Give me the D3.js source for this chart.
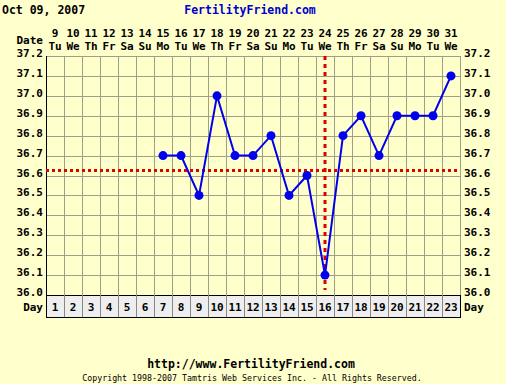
<!DOCTYPE html>
<html>
<head>
<meta charset="utf-8">
<script src="https://cdn.jsdelivr.net/npm/d3@7"></script>
<style>
  body { margin: 0; background: #ffffcc; }
  svg { display: block; }
  text { font-family: "DejaVu Sans Mono", monospace; font-weight: bold; }
</style>
</head>
<body>
<svg id="chart" width="506" height="384"></svg>
<script>
const cycleDays = d3.range(1, 24);
const dates = [9, 10, 11, 12, 13, 14, 15, 16, 17, 18, 19, 20, 21, 22, 23, 24, 25, 26, 27, 28, 29, 30, 31];
const weekdays = ['Tu', 'We', 'Th', 'Fr', 'Sa', 'Su', 'Mo', 'Tu', 'We', 'Th', 'Fr', 'Sa', 'Su', 'Mo', 'Tu', 'We', 'Th', 'Fr', 'Sa', 'Su', 'Mo', 'Tu', 'We'];
const tempDays = [7, 8, 9, 10, 11, 12, 13, 14, 15, 16, 17, 18, 19, 20, 21, 22, 23];
const temps = [36.7, 36.7, 36.5, 37.0, 36.7, 36.7, 36.8, 36.5, 36.6, 36.1, 36.8, 36.9, 36.7, 36.9, 36.9, 36.9, 37.1];
const tempTicks = [36.0, 36.1, 36.2, 36.3, 36.4, 36.5, 36.6, 36.7, 36.8, 36.9, 37.0, 37.1, 37.2];
const coverline = 36.625;
const ovulationDay = 16;

const svg = d3.select('#chart');
const plotL = 46, plotR = 460, plotT = 56, plotB = 295, dayRowH = 22;
const gridColor = '#a09f88';

const x = d3.scaleBand().domain(cycleDays).range([plotL, plotR]);
const y = d3.scaleLinear().domain([36.0, 37.2]).range([plotB, plotT]);
const cx = d => x(d) + x.bandwidth() / 2;

// header
svg.append('text').attr('x', 2).attr('y', 14).attr('font-size', 11.5)
  .attr('fill', '#000').text('Oct 09, 2007');
svg.append('text').attr('x', 250).attr('y', 14).attr('font-size', 11.5)
  .attr('text-anchor', 'middle').attr('fill', '#0000cc').text('FertilityFriend.com');

// grid
const g = svg.append('g');
g.selectAll('.hgrid').data(tempTicks).enter().append('line')
  .attr('x1', plotL).attr('x2', plotR)
  .attr('y1', d => Math.round(y(d)) + 0.5).attr('y2', d => Math.round(y(d)) + 0.5)
  .attr('stroke', gridColor).attr('stroke-width', 1);
g.selectAll('.vgrid').data(cycleDays.concat([24])).enter().append('line')
  .attr('x1', d => Math.round(d === 24 ? plotR : x(d)) + 0.5).attr('x2', d => Math.round(d === 24 ? plotR : x(d)) + 0.5)
  .attr('y1', plotT).attr('y2', plotB)
  .attr('stroke', gridColor).attr('stroke-width', 1);

// day row
g.append('rect').attr('x', plotL + 0.5).attr('y', plotB + 0.5).attr('width', plotR - plotL).attr('height', dayRowH)
  .attr('fill', '#eeeeee').attr('stroke', '#000').attr('stroke-width', 1);
g.selectAll('.vday').data(cycleDays.slice(1)).enter().append('line')
  .attr('x1', d => Math.round(x(d)) + 0.5).attr('x2', d => Math.round(x(d)) + 0.5)
  .attr('y1', plotB).attr('y2', plotB + dayRowH)
  .attr('stroke', '#888888');
g.selectAll('.daylbl').data(cycleDays).enter().append('text')
  .attr('x', d => cx(d)).attr('y', plotB + 16).attr('font-size', 11)
  .attr('text-anchor', 'middle').text(d => d);

// axis lines
svg.append('line').attr('x1', plotL + 0.5).attr('x2', plotL + 0.5).attr('y1', plotT).attr('y2', plotB + dayRowH)
  .attr('stroke', '#000');

// date rows
svg.selectAll('.date').data(dates).enter().append('text')
  .attr('x', (d, i) => cx(cycleDays[i])).attr('y', 37).attr('font-size', 11)
  .attr('text-anchor', 'middle').text(d => d);
svg.selectAll('.wd').data(weekdays).enter().append('text')
  .attr('x', (d, i) => cx(cycleDays[i])).attr('y', 50).attr('font-size', 11)
  .attr('text-anchor', 'middle').text(d => d);
svg.append('text').attr('x', 43).attr('y', 44).attr('font-size', 11)
  .attr('text-anchor', 'end').text('Date');
svg.append('text').attr('x', 43).attr('y', plotB + 16).attr('font-size', 11)
  .attr('text-anchor', 'end').text('Day');
svg.append('text').attr('x', 464).attr('y', plotB + 16).attr('font-size', 11)
  .text('Day');

// temp labels
svg.selectAll('.tl').data(tempTicks).enter().append('text')
  .attr('x', 43).attr('y', d => y(d) + 1).attr('font-size', 11)
  .attr('text-anchor', 'end').text(d => d.toFixed(1));
svg.selectAll('.tr').data(tempTicks).enter().append('text')
  .attr('x', 464).attr('y', d => y(d) + 1).attr('font-size', 11)
  .text(d => d.toFixed(1));

// coverline and ovulation line
svg.append('line').attr('x1', plotL).attr('x2', plotR)
  .attr('y1', y(coverline)).attr('y2', y(coverline))
  .attr('stroke', '#dd0000').attr('stroke-width', 3).attr('stroke-dasharray', '3,3');
svg.append('line').attr('x1', cx(ovulationDay)).attr('x2', cx(ovulationDay))
  .attr('y1', plotT).attr('y2', plotB - 5)
  .attr('stroke', '#dd0000').attr('stroke-width', 3).attr('stroke-dasharray', '4,4');

// temperature line
const pts = tempDays.map((d, i) => [d, temps[i]]);
const line = d3.line().x(p => cx(p[0])).y(p => y(p[1]));
svg.append('path').attr('d', line(pts)).attr('fill', 'none')
  .attr('stroke', '#0000ee').attr('stroke-width', 2);
svg.selectAll('.dot').data(pts).enter().append('circle')
  .attr('cx', p => cx(p[0])).attr('cy', p => y(p[1])).attr('r', 4.5)
  .attr('fill', '#0000ee');

// footer
svg.append('text').attr('x', 251).attr('y', 368).attr('font-size', 11.5)
  .attr('text-anchor', 'middle').text('http://www.FertilityFriend.com');
svg.append('text').attr('x', 252).attr('y', 381).attr('font-size', 8.3)
  .attr('text-anchor', 'middle').style('font-weight', 'normal')
  .text('Copyright 1998-2007 Tamtris Web Services Inc. - All Rights Reserved.');
</script>
</body>
</html>
